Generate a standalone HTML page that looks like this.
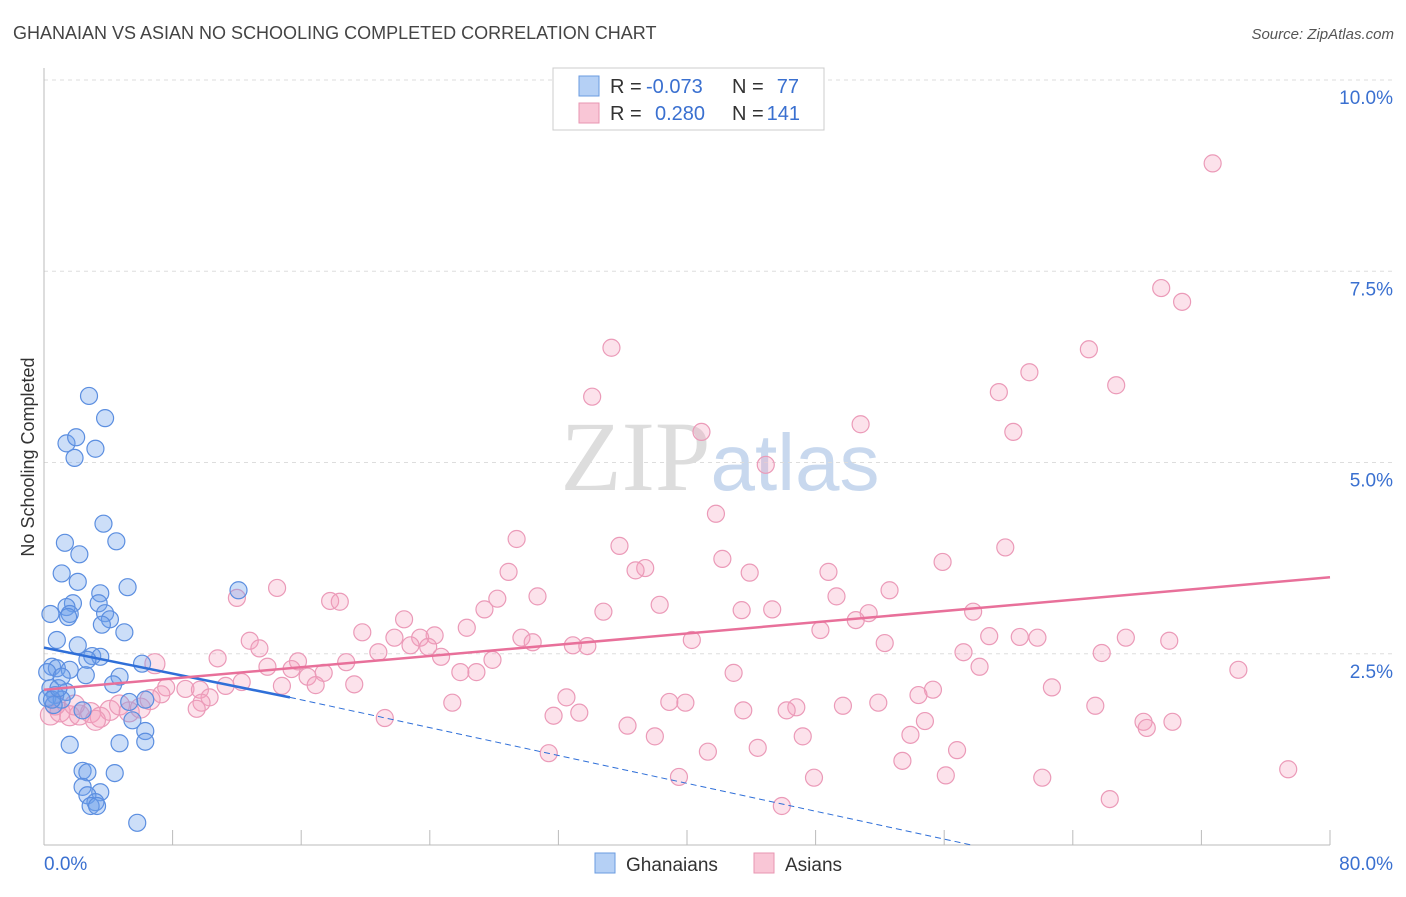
<!DOCTYPE html>
<html><head><meta charset="utf-8"><style>
body{margin:0;background:#fff;font-family:"Liberation Sans",sans-serif}
</style></head><body>
<svg width="1406" height="892" xmlns="http://www.w3.org/2000/svg" font-family="Liberation Sans, sans-serif">
<text x="13" y="39" font-size="18" fill="#444">GHANAIAN VS ASIAN NO SCHOOLING COMPLETED CORRELATION CHART</text>
<text x="1394" y="39" font-size="15" fill="#555" font-style="italic" text-anchor="end">Source: ZipAtlas.com</text>
<text x="720" y="490" font-size="100" text-anchor="middle" fill="#ddd" font-family="Liberation Serif, serif">ZIP<tspan fill="#c8d8ee" font-family="Liberation Sans, sans-serif" font-size="80">atlas</tspan></text>
<g id="grid"></g>
<g id="axes"></g>
<g id="marks"></g>
<text transform="translate(34,457) rotate(-90)" font-size="18" fill="#333" text-anchor="middle">No Schooling Completed</text>
<g>
<rect x="553" y="68" width="271" height="62" fill="#fff" stroke="#ccc"/>
<rect x="579" y="76" width="20" height="20" fill="#b5d0f5" stroke="#6a9be0"/>
<rect x="579" y="103" width="20" height="20" fill="#f9c6d6" stroke="#e896b2"/>
<text x="610" y="93" font-size="20" fill="#333">R =</text>
<text x="646" y="93" font-size="20" fill="#3a70d0">-0.073</text>
<text x="732" y="93" font-size="20" fill="#333">N =</text>
<text x="799" y="93" font-size="20" fill="#3a70d0" text-anchor="end">77</text>
<text x="610" y="120" font-size="20" fill="#333">R =</text>
<text x="655" y="120" font-size="20" fill="#3a70d0">0.280</text>
<text x="732" y="120" font-size="20" fill="#333">N =</text>
<text x="800" y="120" font-size="20" fill="#3a70d0" text-anchor="end">141</text>
</g>
<g>
<rect x="595" y="853" width="20" height="20" fill="#b5d0f5" stroke="#6a9be0"/>
<text x="626" y="871" font-size="19" fill="#333">Ghanaians</text>
<rect x="754" y="853" width="20" height="20" fill="#f9c6d6" stroke="#e896b2"/>
<text x="785" y="871" font-size="19" fill="#333">Asians</text>
</g>
</svg>
<script>
const blueX=[2.8,3.8,1.4,2.0,3.2,1.9,3.7,4.5,1.3,2.2,1.1,2.1,5.2,12.1,3.5,1.8,1.4,3.4,0.4,1.6,3.8,4.1,1.5,5.0,0.8,2.1,3.6,3.0,3.5,2.7,6.1,0.5,0.8,0.2,1.6,4.7,1.1,2.6,4.3,0.4,1.4,0.7,0.2,1.1,6.3,5.3,0.6,2.4,5.5,6.3,4.7,6.3,1.6,2.4,2.7,4.4,2.4,3.5,2.7,3.2,2.9,3.3,5.8,0.5,0.9];
const blueY=[5.87,5.58,5.25,5.33,5.18,5.06,4.2,3.97,3.95,3.8,3.55,3.44,3.37,3.33,3.29,3.16,3.11,3.16,3.02,3.02,3.03,2.95,2.98,2.78,2.68,2.61,2.88,2.47,2.46,2.42,2.37,2.33,2.31,2.26,2.29,2.2,2.2,2.22,2.1,2.05,2.0,1.96,1.92,1.9,1.9,1.87,1.83,1.76,1.63,1.49,1.33,1.35,1.31,0.97,0.95,0.94,0.76,0.69,0.65,0.56,0.51,0.51,0.29,1.9,2.05];
const pinkX=[72.7,69.5,70.8,35.3,65.0,61.3,66.7,59.4,34.1,50.8,60.3,40.9,44.9,41.8,29.4,35.8,59.8,42.2,55.9,37.4,36.8,43.9,48.8,28.9,14.5,52.6,12.0,30.7,28.2,49.3,17.8,18.4,38.3,27.4,34.8,43.4,45.3,57.8,51.3,50.5,22.4,26.3,19.8,48.3,24.3,21.8,58.8,60.7,61.8,67.3,23.4,29.7,12.8,70.0,40.3,30.4,52.3,22.8,13.4,32.9,33.8,23.9,20.8,57.2,65.8,24.7,10.8,27.9,15.8,18.8,58.2,6.9,13.9,15.4,74.3,25.9,26.9,42.9,17.4,16.4,12.3,19.3,16.9,11.3,14.8,62.7,7.6,8.8,9.7,7.3,55.3,54.4,10.3,32.5,9.8,25.4,38.9,39.9,51.9,49.7,46.8,65.4,46.2,9.5,43.5,31.7,33.3,21.2,54.8,68.4,70.2,36.3,68.6,53.9,38.0,47.2,44.4,41.3,56.8,31.4,53.4,77.4,56.1,62.1,47.9,39.5,66.3,45.9,0.4,1.0,1.6,2.2,2.9,3.5,4.1,4.7,5.3,6.0,6.6,0.7,1.9,3.2];
const pinkY=[8.91,7.28,7.1,6.5,6.48,6.18,6.01,5.92,5.86,5.5,5.4,5.4,4.97,4.33,4.0,3.91,3.89,3.74,3.7,3.62,3.59,3.56,3.57,3.57,3.36,3.33,3.23,3.25,3.22,3.25,3.19,3.18,3.14,3.08,3.05,3.07,3.08,3.05,3.03,2.94,2.95,2.84,2.78,2.81,2.74,2.71,2.73,2.72,2.71,2.71,2.71,2.71,2.67,2.67,2.68,2.65,2.64,2.61,2.57,2.61,2.6,2.59,2.52,2.52,2.51,2.46,2.44,2.42,2.4,2.39,2.33,2.37,2.33,2.3,2.29,2.26,2.26,2.25,2.25,2.2,2.13,2.1,2.09,2.08,2.08,2.06,2.06,2.04,2.03,1.97,2.03,1.96,1.93,1.93,1.86,1.86,1.87,1.86,1.86,1.82,1.8,1.82,1.76,1.78,1.76,1.69,1.73,1.66,1.62,1.61,1.61,1.56,1.53,1.44,1.42,1.42,1.27,1.22,1.24,1.2,1.1,0.99,0.91,0.88,0.88,0.89,0.6,0.51,1.7,1.74,1.69,1.7,1.73,1.67,1.76,1.83,1.74,1.79,1.9,1.83,1.83,1.63];
const yTicks=[2.5,5.0,7.5,10.0];
const yTickLabels=["2.5%","5.0%","7.5%","10.0%"];
const blueTrend=[[0,2.58],[15.3,1.93],[57.7,0]];
const pinkTrend=[[0,2.03],[80,3.5]];
const X=v=>44+v/80*1286, Y=v=>845-v/10*765;
const NS="http://www.w3.org/2000/svg";
function mk(t,a,p){const e=document.createElementNS(NS,t);for(const k in a)e.setAttribute(k,a[k]);p.appendChild(e);return e;}
const grid=document.getElementById('grid'),axes=document.getElementById('axes'),marks=document.getElementById('marks');
yTicks.forEach((t,i)=>{
 const l=mk('line',{x1:44,x2:1394,y1:Y(t),y2:Y(t),stroke:'#ddd','stroke-dasharray':'4,4'},grid);
 
 
 const tx=mk('text',{x:1393,y:Y(t)+24,'font-size':19,fill:'#3a70d0','text-anchor':'end'},axes);
 tx.textContent=yTickLabels[i];
 
 
});
const xa=mk('line',{x1:44,x2:1330,y1:845,y2:845,stroke:'#bbb'},axes);


const ya=mk('line',{x1:44,x2:44,y1:68,y2:845,stroke:'#bbb'},axes);


for(let i=0;i<=10;i++){
 const tk=mk('line',{x1:X(i*8),x2:X(i*8),y1:830,y2:845,stroke:'#bbb'},axes);
 
 
}
const x0=mk('text',{x:44,y:870,'font-size':19,fill:'#3a70d0'},axes);x0.textContent='0.0%';


const x1=mk('text',{x:1393,y:870,'font-size':19,fill:'#3a70d0','text-anchor':'end'},axes);x1.textContent='80.0%';


pinkX.forEach((x,i)=>{
 const c=mk('circle',{cx:X(x),cy:Y(pinkY[i]),r:x<7?10:8.5,fill:'rgba(244,160,190,0.3)',stroke:'#eb9ab8','stroke-width':1.2},marks);
 
 
});
blueX.forEach((x,i)=>{
 const c=mk('circle',{cx:X(x),cy:Y(blueY[i]),r:8.5,fill:'rgba(110,160,235,0.35)',stroke:'#5b8ee0','stroke-width':1.2},marks);
 
 
});
const b1=mk('line',{x1:X(blueTrend[0][0]),y1:Y(blueTrend[0][1]),x2:X(blueTrend[1][0]),y2:Y(blueTrend[1][1]),stroke:'#2f6fd8','stroke-width':2.5},marks);


const b2=mk('line',{x1:X(blueTrend[1][0]),y1:Y(blueTrend[1][1]),x2:X(blueTrend[2][0]),y2:Y(blueTrend[2][1]),stroke:'#2f6fd8','stroke-width':1,'stroke-dasharray':'6,4'},marks);


const p1=mk('line',{x1:X(pinkTrend[0][0]),y1:Y(pinkTrend[0][1]),x2:X(pinkTrend[1][0]),y2:Y(pinkTrend[1][1]),stroke:'#e8709a','stroke-width':2.5},marks);


</script>
</body></html>
